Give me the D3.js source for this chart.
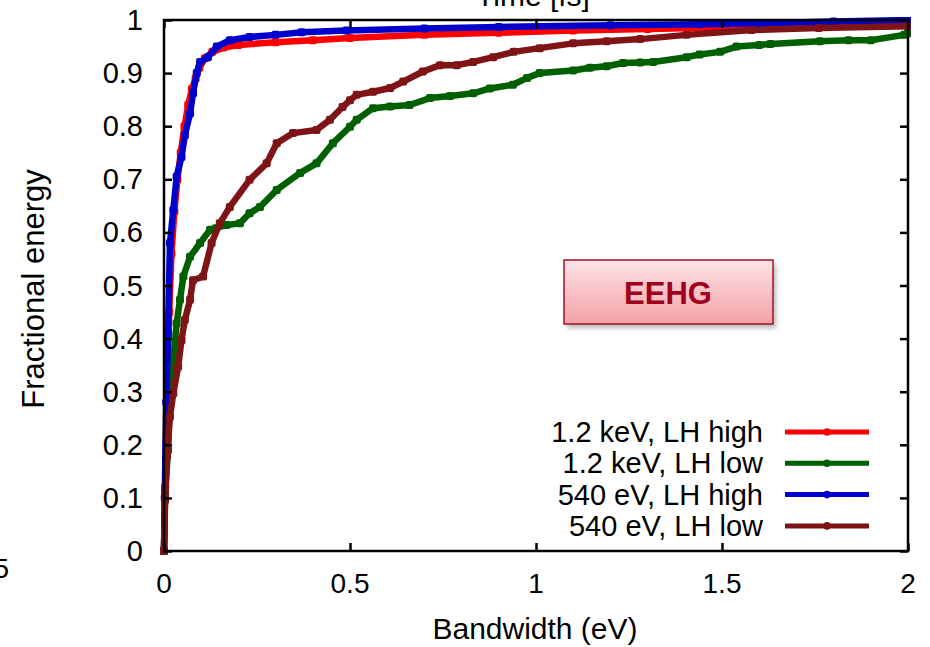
<!DOCTYPE html>
<html>
<head>
<meta charset="utf-8">
<script src="https://cdn.jsdelivr.net/npm/d3@7"></script>
<style>
  body { margin: 0; background: #fff; }
  text { font-family: "Liberation Sans", Arial, sans-serif; fill: #000; }
</style>
</head>
<body>
<div id="chart"></div>
<script>
// Series data: bandwidth (eV) and fractional energy
var redBw = [0, 0.003, 0.008, 0.014, 0.02, 0.028, 0.036, 0.045, 0.055, 0.065, 0.075, 0.085, 0.095, 0.11, 0.13, 0.16, 0.2, 0.3, 0.4, 0.5, 0.7, 0.9, 1.1, 1.3, 1.5, 1.7, 1.9, 2.0];
var redFrac = [0, 0.12, 0.3, 0.45, 0.56, 0.64, 0.7, 0.75, 0.8, 0.84, 0.87, 0.89, 0.91, 0.928, 0.94, 0.948, 0.953, 0.958, 0.962, 0.966, 0.972, 0.976, 0.98, 0.983, 0.986, 0.99, 0.995, 1.0];

var greenBw = [0, 0.003, 0.011, 0.016, 0.025, 0.034, 0.043, 0.052, 0.07, 0.097, 0.124, 0.14, 0.168, 0.204, 0.23, 0.258, 0.303, 0.366, 0.41, 0.454, 0.5, 0.518, 0.562, 0.608, 0.66, 0.715, 0.769, 0.831, 0.876, 0.938, 0.976, 1.01, 1.1, 1.145, 1.19, 1.234, 1.28, 1.315, 1.405, 1.44, 1.495, 1.539, 1.6, 1.63, 1.763, 1.84, 1.9, 1.99, 2.0];
var greenFrac = [0, 0.11, 0.19, 0.31, 0.36, 0.429, 0.473, 0.517, 0.554, 0.58, 0.605, 0.608, 0.614, 0.617, 0.636, 0.648, 0.68, 0.712, 0.73, 0.768, 0.799, 0.812, 0.834, 0.837, 0.84, 0.853, 0.857, 0.862, 0.871, 0.878, 0.891, 0.9, 0.905, 0.91, 0.913, 0.919, 0.92, 0.921, 0.93, 0.935, 0.94, 0.95, 0.953, 0.955, 0.96, 0.962, 0.962, 0.972, 0.975];

var blueBw = [0, 0.002, 0.006, 0.011, 0.016, 0.025, 0.034, 0.047, 0.056, 0.07, 0.078, 0.088, 0.097, 0.118, 0.142, 0.177, 0.23, 0.3, 0.37, 0.49, 0.7, 0.9, 1.2, 1.44, 1.6, 1.8, 2.0];
var blueFrac = [0, 0.1, 0.28, 0.41, 0.58, 0.642, 0.705, 0.742, 0.783, 0.824, 0.862, 0.9, 0.921, 0.93, 0.95, 0.962, 0.968, 0.972, 0.977, 0.98, 0.984, 0.987, 0.99, 0.992, 0.994, 0.997, 1.0];

var brownBw = [0, 0.003, 0.008, 0.016, 0.025, 0.038, 0.047, 0.056, 0.07, 0.078, 0.105, 0.128, 0.15, 0.177, 0.23, 0.276, 0.303, 0.347, 0.41, 0.446, 0.48, 0.5, 0.518, 0.562, 0.608, 0.643, 0.696, 0.742, 0.787, 0.831, 0.885, 0.94, 1.01, 1.1, 1.19, 1.28, 1.405, 1.58, 1.76, 2.0];
var brownFrac = [0, 0.096, 0.178, 0.253, 0.297, 0.347, 0.397, 0.435, 0.473, 0.51, 0.517, 0.58, 0.617, 0.648, 0.699, 0.73, 0.768, 0.787, 0.793, 0.812, 0.836, 0.849, 0.859, 0.865, 0.872, 0.884, 0.903, 0.915, 0.915, 0.921, 0.93, 0.94, 0.947, 0.956, 0.96, 0.964, 0.972, 0.981, 0.985, 0.988];

var seriesNames = ["1.2 keV, LH high", "1.2 keV, LH low", "540 eV, LH high", "540 eV, LH low"];
var seriesColors = ["#ff0000", "#006000", "#0000cc", "#7f1416"];

var xTicks = [0, 0.5, 1, 1.5, 2];
var xTickLabels = ["0", "0.5", "1", "1.5", "2"];
var yTicks = [0, 0.1, 0.2, 0.3, 0.4, 0.5, 0.6, 0.7, 0.8, 0.9, 1];
var yTickLabels = ["0", "0.1", "0.2", "0.3", "0.4", "0.5", "0.6", "0.7", "0.8", "0.9", "1"];

var W = 930, H = 647;
var plotL = 164, plotR = 908, plotT = 20, plotB = 551;

var svg = d3.select("#chart").append("svg")
    .attr("width", W)
    .attr("height", H);

var defs = svg.append("defs");
var grad = defs.append("linearGradient")
    .attr("id", "boxGrad")
    .attr("x1", 0).attr("y1", 0).attr("x2", 0).attr("y2", 1);
grad.append("stop").attr("offset", "0%").attr("stop-color", "#fde3e6");
grad.append("stop").attr("offset", "100%").attr("stop-color", "#f2a1a7");
var blur = defs.append("filter").attr("id", "shadow")
    .attr("x", "-10%").attr("y", "-10%").attr("width", "130%").attr("height", "140%");
blur.append("feGaussianBlur").attr("stdDeviation", 2.5);

var x = d3.scaleLinear().domain([0, 2]).range([plotL, plotR]);
var y = d3.scaleLinear().domain([0, 1]).range([plotB, plotT]);

var series = [
    { bw: redBw, frac: redFrac },
    { bw: greenBw, frac: greenFrac },
    { bw: blueBw, frac: blueFrac },
    { bw: brownBw, frac: brownFrac }
];

// clip curves near the plot frame
defs.append("clipPath").attr("id", "plotClip")
    .append("rect")
    .attr("x", plotL - 6).attr("y", plotT - 3)
    .attr("width", plotR - plotL + 9).attr("height", plotB - plotT + 10);

var line = d3.line()
    .x(function (d) { return x(d[0]); })
    .y(function (d) { return y(d[1]); });

var plot = svg.append("g").attr("clip-path", "url(#plotClip)");

series.forEach(function (s, i) {
    var pts = s.bw.map(function (b, j) { return [b, s.frac[j]]; });
    var g = plot.append("g");
    g.append("path")
        .datum(pts)
        .attr("d", line)
        .attr("fill", "none")
        .attr("stroke", seriesColors[i])
        .attr("stroke-width", 6.5)
        .attr("stroke-linejoin", "round");
    g.selectAll("rect")
        .data(pts)
        .enter().append("rect")
        .attr("x", function (d) { return x(d[0]) - 4; })
        .attr("y", function (d) { return y(d[1]) - 4; })
        .attr("width", 8).attr("height", 8)
        .attr("rx", 2)
        .attr("fill", seriesColors[i]);
});

// axes with inward ticks on all four sides
var tickLen = 8;
function styleTicks(g) {
    g.select(".domain").remove();
    g.selectAll("line").attr("stroke", "#000").attr("stroke-width", 2.5);
}
svg.append("g")
    .attr("transform", "translate(0," + plotB + ")")
    .call(d3.axisTop(x).tickValues(xTicks).tickSize(tickLen).tickFormat(""))
    .call(styleTicks);
svg.append("g")
    .attr("transform", "translate(0," + plotT + ")")
    .call(d3.axisBottom(x).tickValues(xTicks).tickSize(tickLen).tickFormat(""))
    .call(styleTicks);
svg.append("g")
    .attr("transform", "translate(" + plotL + ",0)")
    .call(d3.axisRight(y).tickValues(yTicks).tickSize(tickLen).tickFormat(""))
    .call(styleTicks);
svg.append("g")
    .attr("transform", "translate(" + plotR + ",0)")
    .call(d3.axisLeft(y).tickValues(yTicks).tickSize(tickLen).tickFormat(""))
    .call(styleTicks);

// frame
svg.append("rect")
    .attr("x", plotL).attr("y", plotT)
    .attr("width", plotR - plotL).attr("height", plotB - plotT)
    .attr("fill", "none")
    .attr("stroke", "#000")
    .attr("stroke-width", 2.5);

// tick labels
svg.selectAll(".xlab")
    .data(xTicks)
    .enter().append("text")
    .attr("class", "xlab")
    .attr("x", function (d) { return x(d); })
    .attr("y", plotB + 42)
    .attr("text-anchor", "middle")
    .attr("font-size", 28)
    .text(function (d, i) { return xTickLabels[i]; });

svg.selectAll(".ylab")
    .data(yTicks)
    .enter().append("text")
    .attr("class", "ylab")
    .attr("x", plotL - 21)
    .attr("y", function (d) { return y(d) + 10; })
    .attr("text-anchor", "end")
    .attr("font-size", 29)
    .text(function (d, i) { return yTickLabels[i]; });

// axis titles
svg.append("text")
    .attr("x", 535).attr("y", 639)
    .attr("text-anchor", "middle")
    .attr("font-size", 30)
    .text("Bandwidth (eV)");

svg.append("text")
    .attr("transform", "translate(44,289) rotate(-90)")
    .attr("text-anchor", "middle")
    .attr("font-size", 31)
    .text("Fractional energy");

// cut-off top title and neighbour label
svg.append("text")
    .attr("x", 533).attr("y", 6)
    .attr("text-anchor", "middle")
    .attr("font-size", 30)
    .text("Time [fs]");

svg.append("text")
    .attr("x", 9).attr("y", 578)
    .attr("text-anchor", "end")
    .attr("font-size", 28)
    .text("5");

// legend
var legY0 = 432, legDy = 31.3;
seriesNames.forEach(function (name, i) {
    var ly = legY0 + i * legDy;
    svg.append("text")
        .attr("x", 763).attr("y", ly + 10)
        .attr("text-anchor", "end")
        .attr("font-size", 29)
        .text(name);
    svg.append("line")
        .attr("x1", 785).attr("x2", 869)
        .attr("y1", ly).attr("y2", ly)
        .attr("stroke", seriesColors[i])
        .attr("stroke-width", 5);
    svg.append("circle")
        .attr("cx", 827).attr("cy", ly)
        .attr("r", 3.8)
        .attr("fill", seriesColors[i]);
});

// EEHG label box
svg.append("rect")
    .attr("x", 567).attr("y", 264)
    .attr("width", 209).attr("height", 64)
    .attr("fill", "#888")
    .attr("opacity", 0.6)
    .attr("filter", "url(#shadow)");
svg.append("rect")
    .attr("x", 564).attr("y", 260)
    .attr("width", 209).attr("height", 64)
    .attr("fill", "url(#boxGrad)")
    .attr("stroke", "#a3112a")
    .attr("stroke-width", 1.5);
svg.append("text")
    .attr("x", 668).attr("y", 304)
    .attr("text-anchor", "middle")
    .attr("font-size", 31)
    .attr("font-weight", "bold")
    .style("fill", "#a0001e")
    .text("EEHG");
</script>
</body>
</html>
